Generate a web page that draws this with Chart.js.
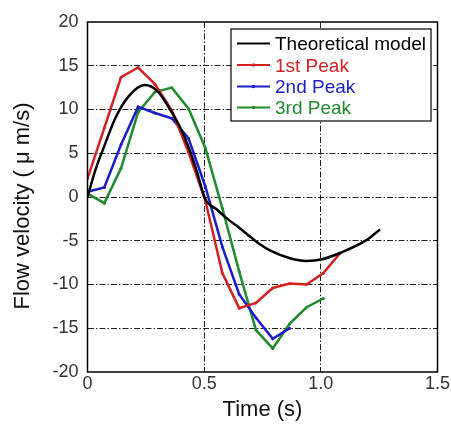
<!DOCTYPE html>
<html>
<head>
<meta charset="utf-8">
<script src="https://cdn.jsdelivr.net/npm/chart.js@4/dist/chart.umd.min.js"></script>
<style>
  html, body { margin: 0; padding: 0; background: #fff; }
  canvas { display: block; }
</style>
</head>
<body>
<canvas id="c" width="451" height="433"></canvas>
<script>
// ---- data ----
const seriesLabels = ["Theoretical model", "1st Peak", "2nd Peak", "3rd Peak"];
const modelTime = [0, 0.034, 0.076, 0.119, 0.176, 0.245, 0.3, 0.354, 0.4, 0.44, 0.47, 0.504, 0.553, 0.6, 0.654, 0.7, 0.739, 0.782, 0.868, 0.94, 1.0, 1.082, 1.197, 1.254];
const modelVelocity = [0, 3.1, 6.1, 9.0, 11.5, 12.8, 12.1, 10.0, 7.8, 5.2, 2.8, -0.2, -1.4, -2.5, -3.6, -4.6, -5.4, -6.1, -7.0, -7.3, -7.15, -6.4, -4.9, -3.7];
const frameTime = [0, 0.072, 0.144, 0.217, 0.289, 0.361, 0.433, 0.505, 0.578, 0.65, 0.722, 0.794, 0.866, 0.939, 1.011, 1.083];
const peak1 = [2.1, 7.9, 13.7, 14.8, 12.9, 9.9, 5.1, -0.4, -8.7, -12.7, -12.1, -10.4, -9.9, -10.0, -8.7, -6.4];
const peak2 = [0.6, 1.1, 6.0, 10.3, 9.6, 9.0, 6.7, 1.2, -5.7, -11.1, -13.8, -16.2, -15.0];
const peak3 = [0.4, -0.7, 3.3, 9.7, 12.0, 12.5, 10.1, 5.6, -1.3, -8.5, -15.2, -17.3, -14.5, -12.6, -11.6];
const xTicks = [0, 0.5, 1, 1.5];
const yTicks = [-20, -15, -10, -5, 0, 5, 10, 15, 20];
const xTitle = "Time (s)";
const yTitle = "Flow velocity ( \u03BC m/s)";

const colors = ["#000000", "#d42222", "#1c1cc8", "#1f8a2f"];
const FONT = "'Liberation Sans', Arial, sans-serif";

const toXY = (xs, ys) => ys.map((v, i) => ({ x: xs[i], y: v }));

const legendPlugin = {
  id: 'insideLegend',
  afterDatasetsDraw(chart) {
    const ctx = chart.ctx;
    ctx.save();
    const bx = 231, by = 29, bw = 200, bh = 92;
    ctx.fillStyle = '#fff';
    ctx.fillRect(bx, by, bw, bh);
    ctx.lineWidth = 1.2;
    ctx.strokeStyle = '#000';
    ctx.strokeRect(bx, by, bw, bh);
    const rows = [43.5, 65, 86.5, 107.5];
    chart.data.datasets.forEach((ds, i) => {
      const y = rows[i];
      ctx.strokeStyle = ds.borderColor;
      ctx.lineWidth = 2.2;
      ctx.beginPath();
      ctx.moveTo(237, y);
      ctx.lineTo(270, y);
      ctx.stroke();
      if (ds.pointRadius > 0) {
        ctx.fillStyle = ds.borderColor;
        ctx.beginPath();
        ctx.arc(253.5, y, 1.8, 0, Math.PI * 2);
        ctx.fill();
      }
      ctx.fillStyle = ds.borderColor;
      ctx.font = "19px " + FONT;
      ctx.textAlign = 'left';
      ctx.textBaseline = 'middle';
      ctx.fillText(ds.label, 275, y + 1.5);
    });
    ctx.restore();
  }
};

const framePlugin = {
  id: 'frame',
  afterDraw(chart) {
    const { ctx, chartArea: a } = chart;
    ctx.save();
    ctx.strokeStyle = '#000';
    ctx.lineWidth = 1.5;
    ctx.strokeRect(a.left, a.top, a.right - a.left, a.bottom - a.top);
    // y-axis title
    ctx.fillStyle = '#111';
    ctx.font = "22px " + FONT;
    ctx.textAlign = 'center';
    ctx.textBaseline = 'middle';
    ctx.translate(23, 206);
    ctx.rotate(-Math.PI / 2);
    ctx.fillText(yTitle, 0, 0);
    ctx.restore();
  }
};

const gridColor = (lo, hi) => (c) => {
  const v = c.tick ? c.tick.value : null;
  return (v === lo || v === hi) ? 'rgba(0,0,0,0)' : '#222';
};

new Chart(document.getElementById('c'), {
  type: 'line',
  data: {
    datasets: [
      { label: seriesLabels[0], data: toXY(modelTime, modelVelocity), borderColor: colors[0], backgroundColor: colors[0], borderWidth: 2.5, pointRadius: 0, cubicInterpolationMode: 'monotone' },
      { label: seriesLabels[1], data: toXY(frameTime, peak1), borderColor: colors[1], backgroundColor: colors[1], borderWidth: 2.5, pointRadius: 1.5, pointBorderWidth: 0 },
      { label: seriesLabels[2], data: toXY(frameTime, peak2), borderColor: colors[2], backgroundColor: colors[2], borderWidth: 2.5, pointRadius: 1.5, pointBorderWidth: 0 },
      { label: seriesLabels[3], data: toXY(frameTime, peak3), borderColor: colors[3], backgroundColor: colors[3], borderWidth: 2.5, pointRadius: 1.5, pointBorderWidth: 0 }
    ]
  },
  options: {
    responsive: false,
    animation: false,
    devicePixelRatio: 1,
    layout: { padding: { left: 0, top: 22, right: 13.5, bottom: 0 } },
    plugins: { legend: { display: false }, tooltip: { enabled: false } },
    scales: {
      x: {
        type: 'linear', min: 0, max: 1.5,
        afterBuildTicks: (s) => { s.ticks = xTicks.map(v => ({ value: v })); },
        afterFit: (s) => { s.height = 61; },
        ticks: { color: '#333', font: { family: FONT, size: 18 }, padding: 1, maxRotation: 0 },
        grid: { color: gridColor(0, 1.5), lineWidth: 1, drawTicks: false },
        border: { display: false, dash: [6, 2, 1.5, 2] },
        title: { display: true, text: xTitle, color: '#111', font: { family: FONT, size: 22 }, padding: { top: 0, bottom: 10 } }
      },
      y: {
        type: 'linear', min: -20, max: 20,
        afterBuildTicks: (s) => { s.ticks = yTicks.map(v => ({ value: v })); },
        afterFit: (s) => { s.width = 87.5; },
        ticks: { color: '#333', font: { family: FONT, size: 18 }, padding: 9 },
        grid: { color: gridColor(-20, 20), lineWidth: 1, drawTicks: false },
        border: { display: false, dash: [6, 2, 1.5, 2] }
      }
    }
  },
  plugins: [legendPlugin, framePlugin]
});
</script>
</body>
</html>
